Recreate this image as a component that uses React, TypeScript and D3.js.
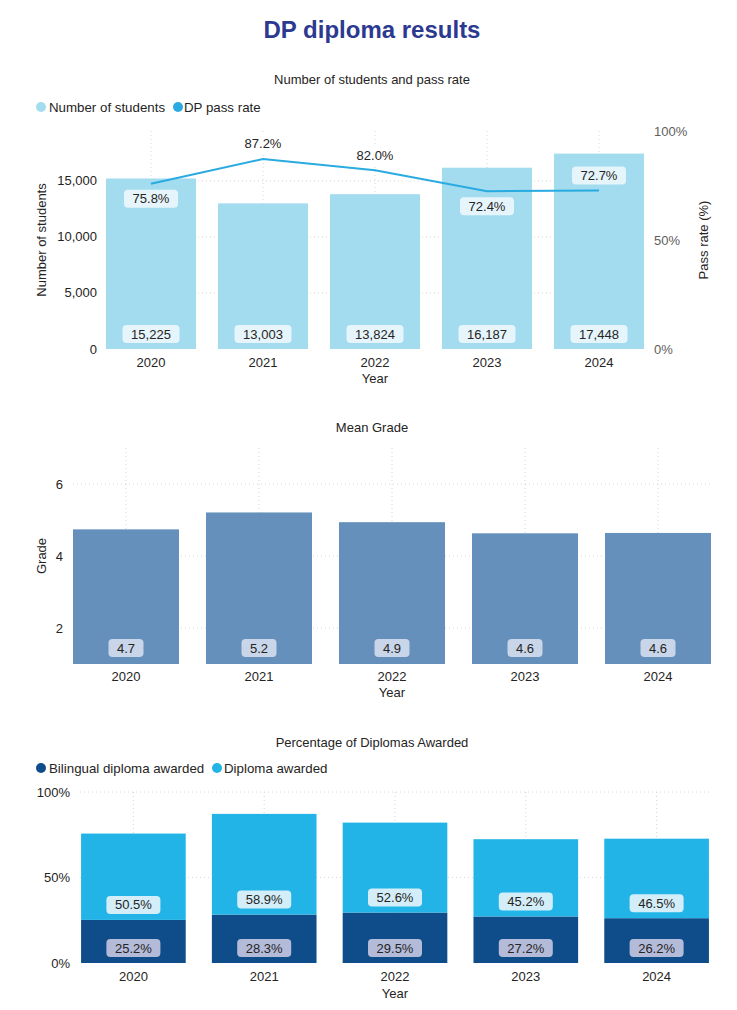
import React from "react";
import * as d3 from "d3";

const years = ["2020", "2021", "2022", "2023", "2024"];
const students = [15225, 13003, 13824, 16187, 17448];
const passRate = [75.8, 87.2, 82.0, 72.4, 72.7];
const passLabelPos = ["below", "above", "above", "below", "above"];
const meanGrade = [4.74, 5.21, 4.94, 4.63, 4.64];
const bilingual = [25.2, 28.3, 29.5, 27.2, 26.2];
const diploma = [50.5, 58.9, 52.6, 45.2, 46.5];
const studentTicks = [0, 5000, 10000, 15000];
const rateTicks = [0, 50, 100];
const gradeTicks = [2, 4, 6];
const pctTicks = [0, 50, 100];

const FONT = "'Liberation Sans', Arial, sans-serif";
const TXT = "#252423";
const GRID = "#d6d6d6";

function Label({ x, y, text, w, fill }: { x: number; y: number; text: string; w: number; fill: string }) {
  return (
    <g>
      <rect x={x - w / 2} y={y - 9} width={w} height={18} rx={4} fill={fill} />
      <text x={x} y={y} textAnchor="middle" dominantBaseline="central" fontSize={13} fill={TXT}>
        {text}
      </text>
    </g>
  );
}

function band(range: [number, number], p: number) {
  return d3.scaleBand().domain(years).range(range).paddingInner(p).paddingOuter(p / 2);
}

export default function App() {
  // Chart 1
  const x1 = band([95, 655], 0.196);
  const yL = d3.scaleLinear().domain([0, 19464]).range([349, 131]);
  const yR = d3.scaleLinear().domain([0, 100]).range([349, 131]);
  const line = d3
    .line<number>()
    .x((_, i) => x1(years[i])! + x1.bandwidth() / 2)
    .y((d) => yR(d));
  const fmtInt = d3.format(",");

  // Chart 2
  const x2 = band([59.5, 724.5], 0.203);
  const yG = d3.scaleLinear().domain([1, 7]).range([664, 448]);

  // Chart 3
  const x3 = band([68, 722], 0.2);
  const yP = d3.scaleLinear().domain([0, 100]).range([963, 792]);
  const stackData = years.map((y, i) => ({ year: y, bilingual: bilingual[i], diploma: diploma[i] }));
  const stacked = d3.stack<any>().keys(["bilingual", "diploma"])(stackData);
  const stackColors: Record<string, string> = { bilingual: "#0f4c8a", diploma: "#22b4e6" };
  const stackLabelFill: Record<string, string> = { bilingual: "#b4bbd9", diploma: "#d4eef9" };

  return (
    <svg
      width={737}
      height={1010}
      style={{ position: "absolute", left: 0, top: 0, background: "#fff" }}
      fontFamily={FONT}
    >
      <text x={372} y={29} textAnchor="middle" dominantBaseline="central" fontSize={24} fontWeight="bold" fill="#2b3990">
        DP diploma results
      </text>

      {/* Chart 1 */}
      <text x={372} y={79} textAnchor="middle" dominantBaseline="central" fontSize={13} fill={TXT}>
        Number of students and pass rate
      </text>
      <circle cx={41} cy={107} r={5} fill="#a3dcee" />
      <text x={49} y={107} dominantBaseline="central" fontSize={13.3} fill={TXT}>
        Number of students
      </text>
      <circle cx={178} cy={107} r={5} fill="#29abe2" />
      <text x={184} y={107} dominantBaseline="central" fontSize={13.3} fill={TXT}>
        DP pass rate
      </text>
      {studentTicks.slice(1).map((t) => (
        <line key={t} x1={106} x2={644} y1={yL(t)} y2={yL(t)} stroke={GRID} strokeDasharray="1,3" />
      ))}
      {years.map((y) => (
        <line
          key={y}
          x1={x1(y)! + x1.bandwidth() / 2}
          x2={x1(y)! + x1.bandwidth() / 2}
          y1={131}
          y2={349}
          stroke={GRID}
          strokeDasharray="1,3"
        />
      ))}
      {years.map((y, i) => (
        <rect key={y} x={x1(y)!} y={yL(students[i])} width={x1.bandwidth()} height={349 - yL(students[i])} fill="#a3dcee" />
      ))}
      <path d={line(passRate)!} fill="none" stroke="#29abe2" strokeWidth={2} />
      {years.map((y, i) => (
        <Label key={y} x={x1(y)! + x1.bandwidth() / 2} y={334} text={fmtInt(students[i])} w={57} fill="#e6f5fb" />
      ))}
      {years.map((y, i) => (
        <Label
          key={y}
          x={x1(y)! + x1.bandwidth() / 2}
          y={yR(passRate[i]) + (passLabelPos[i] === "below" ? 15 : -15)}
          text={passRate[i].toFixed(1) + "%"}
          w={54}
          fill={passLabelPos[i] === "below" || yR(passRate[i]) - 15 > yL(students[i]) ? "#e6f5fb" : "#ffffff"}
        />
      ))}
      {studentTicks.map((t) => (
        <text key={t} x={97} y={yL(t)} textAnchor="end" dominantBaseline="central" fontSize={13} fill={TXT}>
          {fmtInt(t)}
        </text>
      ))}
      {rateTicks.map((t) => (
        <text key={t} x={654} y={yR(t)} dominantBaseline="central" fontSize={13} fill="#605e5c">
          {t + "%"}
        </text>
      ))}
      {years.map((y) => (
        <text key={y} x={x1(y)! + x1.bandwidth() / 2} y={362} textAnchor="middle" dominantBaseline="central" fontSize={13} fill={TXT}>
          {y}
        </text>
      ))}
      <text x={375} y={378} textAnchor="middle" dominantBaseline="central" fontSize={13} fill={TXT}>
        Year
      </text>
      <text transform="translate(41,240) rotate(-90)" textAnchor="middle" dominantBaseline="central" fontSize={13} fill={TXT}>
        Number of students
      </text>
      <text transform="translate(703,240) rotate(-90)" textAnchor="middle" dominantBaseline="central" fontSize={13} fill={TXT}>
        Pass rate (%)
      </text>

      {/* Chart 2 */}
      <text x={372} y={427} textAnchor="middle" dominantBaseline="central" fontSize={13} fill={TXT}>
        Mean Grade
      </text>
      {gradeTicks.map((t) => (
        <line key={t} x1={73} x2={710} y1={yG(t)} y2={yG(t)} stroke={GRID} strokeDasharray="1,3" />
      ))}
      {years.map((y) => (
        <line
          key={y}
          x1={x2(y)! + x2.bandwidth() / 2}
          x2={x2(y)! + x2.bandwidth() / 2}
          y1={448}
          y2={664}
          stroke={GRID}
          strokeDasharray="1,3"
        />
      ))}
      {years.map((y, i) => (
        <rect key={y} x={x2(y)!} y={yG(meanGrade[i])} width={x2.bandwidth()} height={664 - yG(meanGrade[i])} fill="#6690bc" />
      ))}
      {years.map((y, i) => (
        <Label key={y} x={x2(y)! + x2.bandwidth() / 2} y={648} text={meanGrade[i].toFixed(1)} w={35} fill="#c9d5e8" />
      ))}
      {gradeTicks.map((t) => (
        <text key={t} x={63} y={yG(t)} textAnchor="end" dominantBaseline="central" fontSize={13} fill={TXT}>
          {t}
        </text>
      ))}
      {years.map((y) => (
        <text key={y} x={x2(y)! + x2.bandwidth() / 2} y={676} textAnchor="middle" dominantBaseline="central" fontSize={13} fill={TXT}>
          {y}
        </text>
      ))}
      <text x={392} y={692} textAnchor="middle" dominantBaseline="central" fontSize={13} fill={TXT}>
        Year
      </text>
      <text transform="translate(41,556) rotate(-90)" textAnchor="middle" dominantBaseline="central" fontSize={13} fill={TXT}>
        Grade
      </text>

      {/* Chart 3 */}
      <text x={372} y={742} textAnchor="middle" dominantBaseline="central" fontSize={13} fill={TXT}>
        Percentage of Diplomas Awarded
      </text>
      <circle cx={41} cy={768} r={5} fill="#0f4c8a" />
      <text x={49} y={768} dominantBaseline="central" fontSize={13.3} fill={TXT}>
        Bilingual diploma awarded
      </text>
      <circle cx={217} cy={768} r={5} fill="#22b4e6" />
      <text x={224} y={768} dominantBaseline="central" fontSize={13.3} fill={TXT}>
        Diploma awarded
      </text>
      {pctTicks.slice(1).map((t) => (
        <line key={t} x1={80} x2={710} y1={yP(t)} y2={yP(t)} stroke={GRID} strokeDasharray="1,3" />
      ))}
      {years.map((y) => (
        <line
          key={y}
          x1={x3(y)! + x3.bandwidth() / 2}
          x2={x3(y)! + x3.bandwidth() / 2}
          y1={792}
          y2={963}
          stroke={GRID}
          strokeDasharray="1,3"
        />
      ))}
      {stacked.map((s) => (
        <g key={s.key}>
          {s.map((d, i) => (
            <rect
              key={i}
              x={x3(years[i])!}
              y={yP(d[1])}
              width={x3.bandwidth()}
              height={yP(d[0]) - yP(d[1])}
              fill={stackColors[s.key]}
            />
          ))}
        </g>
      ))}
      {stacked.map((s) => (
        <g key={s.key + "l"}>
          {s.map((d, i) => (
            <Label
              key={i}
              x={x3(years[i])! + x3.bandwidth() / 2}
              y={yP(d[0]) - 15}
              text={(d[1] - d[0]).toFixed(1) + "%"}
              w={54}
              fill={stackLabelFill[s.key]}
            />
          ))}
        </g>
      ))}
      {pctTicks.map((t) => (
        <text key={t} x={70} y={yP(t)} textAnchor="end" dominantBaseline="central" fontSize={13} fill={TXT}>
          {t + "%"}
        </text>
      ))}
      {years.map((y) => (
        <text key={y} x={x3(y)! + x3.bandwidth() / 2} y={976} textAnchor="middle" dominantBaseline="central" fontSize={13} fill={TXT}>
          {y}
        </text>
      ))}
      <text x={395} y={993} textAnchor="middle" dominantBaseline="central" fontSize={13} fill={TXT}>
        Year
      </text>
    </svg>
  );
}
